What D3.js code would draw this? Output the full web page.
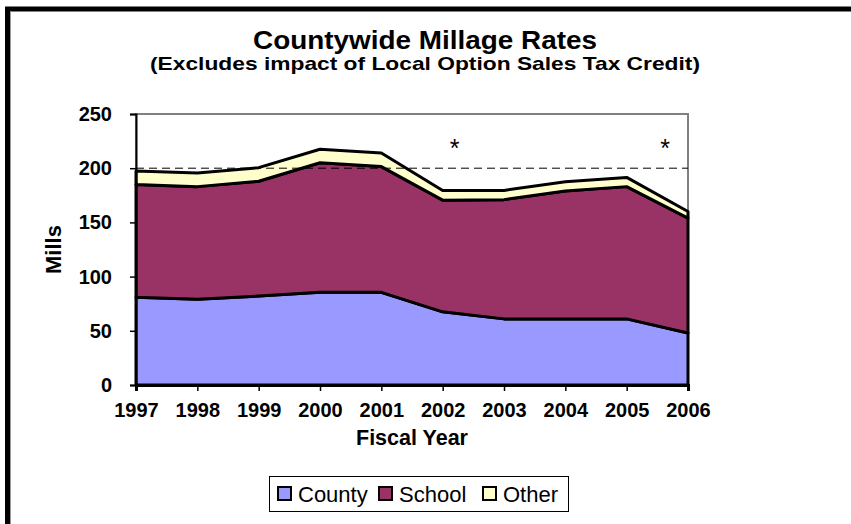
<!DOCTYPE html>
<html>
<head>
<meta charset="utf-8">
<script src="https://cdn.jsdelivr.net/npm/d3@7/dist/d3.min.js"></script>
<style>
  html, body { margin: 0; padding: 0; background: #fff; }
  svg { display: block; font-family: Arial, "Liberation Sans", sans-serif; }
</style>
</head>
<body>
<svg id="chart" width="851" height="524"></svg>
<script>
const years = ["1997","1998","1999","2000","2001","2002","2003","2004","2005","2006"];
const county = [81, 79, 82, 85.5, 85.5, 67.5, 61, 61, 61, 48];
const school = [104, 104, 106, 119.5, 116, 103, 110, 118, 122, 106];
const other  = [12.5, 12.5, 12.5, 12.5, 12.5, 9, 8.5, 8.5, 8.5, 6];
const seriesNames = ["County", "School", "Other"];
const seriesColors = ["#9999ff", "#993366", "#ffffcc"];
const yTicks = [0, 50, 100, 150, 200, 250];
const refLine = 200;
const starYears = ["2002", "2006"];

const svg = d3.select("#chart");
const W = 851, H = 524;
const m = {left: 136, right: 163, top: 114, bottom: 139};

// outer frame
svg.append("rect").attr("x", 7.5).attr("y", 9).attr("width", W + 10).attr("height", H + 10)
  .attr("fill", "#fff").attr("stroke", "#000").attr("stroke-width", 5);
svg.append("line").attr("x1", 10.5).attr("x2", 10.5).attr("y1", 11.5).attr("y2", H)
  .attr("stroke", "#999").attr("stroke-width", 1);

const x = d3.scalePoint().domain(years).range([m.left, W - m.right]);
const y = d3.scaleLinear().domain([0, 250]).range([H - m.bottom, m.top]);

const table = years.map((yr, i) => ({year: yr, County: county[i], School: school[i], Other: other[i]}));
const stack = d3.stack().keys(seriesNames)(table);

// plot area border (gray)
svg.append("rect").attr("x", m.left).attr("y", m.top)
  .attr("width", x.range()[1] - m.left).attr("height", y(0) - m.top)
  .attr("fill", "none").attr("stroke", "#808080").attr("stroke-width", 2);

const area = d3.area().x(d => x(d.data.year)).y0(d => y(d[0])).y1(d => y(d[1]));
svg.append("g").selectAll("path").data(stack).join("path")
  .attr("d", area)
  .attr("fill", (d, i) => seriesColors[i])
  .attr("stroke", "#000").attr("stroke-width", 3).attr("stroke-linejoin", "round");

// reference dashed line
svg.append("line").attr("x1", m.left).attr("x2", x.range()[1])
  .attr("y1", y(refLine)).attr("y2", y(refLine))
  .attr("stroke", "#000").attr("stroke-width", 1).attr("stroke-dasharray", "8,5");

// asterisks
const starX = {"2002": x("2002") + 12, "2006": x("2006") - 23};
svg.append("g").selectAll("text").data(starYears).join("text")
  .attr("x", d => starX[d]).attr("y", 157)
  .attr("text-anchor", "middle").attr("font-size", 25)
  .text("*");

// axes
const yAxis = d3.axisLeft(y).tickValues(yTicks).tickSize(6).tickPadding(18);
const gy = svg.append("g").attr("transform", `translate(${m.left},0)`).call(yAxis);
gy.select(".domain").attr("stroke", "#000").attr("stroke-width", 2);
gy.selectAll(".tick line").attr("stroke", "#000").attr("stroke-width", 1.5);
gy.selectAll("text").attr("font-size", 20).attr("font-weight", "bold").attr("fill", "#000")
  .attr("font-family", "Arial, 'Liberation Sans', sans-serif");

const xAxis = d3.axisBottom(x).tickSize(6).tickPadding(12);
const gx = svg.append("g").attr("transform", `translate(0,${y(0)})`).call(xAxis);
gx.select(".domain").attr("stroke", "#000").attr("stroke-width", 3);
gx.selectAll(".tick line").attr("stroke", "#000").attr("stroke-width", 1.5);
gx.selectAll("text").attr("font-size", 20).attr("font-weight", "bold").attr("fill", "#000")
  .attr("font-family", "Arial, 'Liberation Sans', sans-serif");

// titles
svg.append("text").attr("x", 425).attr("y", 49).attr("text-anchor", "middle")
  .attr("font-size", 25).attr("font-weight", "bold")
  .attr("textLength", 344).attr("lengthAdjust", "spacingAndGlyphs")
  .text("Countywide Millage Rates");
svg.append("text").attr("x", 425).attr("y", 70).attr("text-anchor", "middle")
  .attr("font-size", 18.5).attr("font-weight", "bold")
  .attr("textLength", 550).attr("lengthAdjust", "spacingAndGlyphs")
  .text("(Excludes impact of Local Option Sales Tax Credit)");
svg.append("text").attr("x", (m.left + x.range()[1]) / 2).attr("y", 445).attr("text-anchor", "middle")
  .attr("font-size", 21.5).attr("font-weight", "bold").text("Fiscal Year");
svg.append("text").attr("transform", `translate(61,${(y(0) + y(250)) / 2}) rotate(-90)`)
  .attr("text-anchor", "middle").attr("font-size", 22).attr("font-weight", "bold").text("Mills");

// legend
const lg = svg.append("g");
lg.append("rect").attr("x", 269.5).attr("y", 476.5).attr("width", 299).attr("height", 35)
  .attr("fill", "#fff").attr("stroke", "#000").attr("stroke-width", 1);
const legendX = [278, 379, 483];
seriesNames.forEach((s, i) => {
  lg.append("rect").attr("x", legendX[i]).attr("y", 487).attr("width", 13).attr("height", 13)
    .attr("fill", seriesColors[i]).attr("stroke", "#000").attr("stroke-width", 2);
  lg.append("text").attr("x", legendX[i] + 20).attr("y", 502).attr("font-size", 22).text(s);
});
</script>
</body>
</html>
